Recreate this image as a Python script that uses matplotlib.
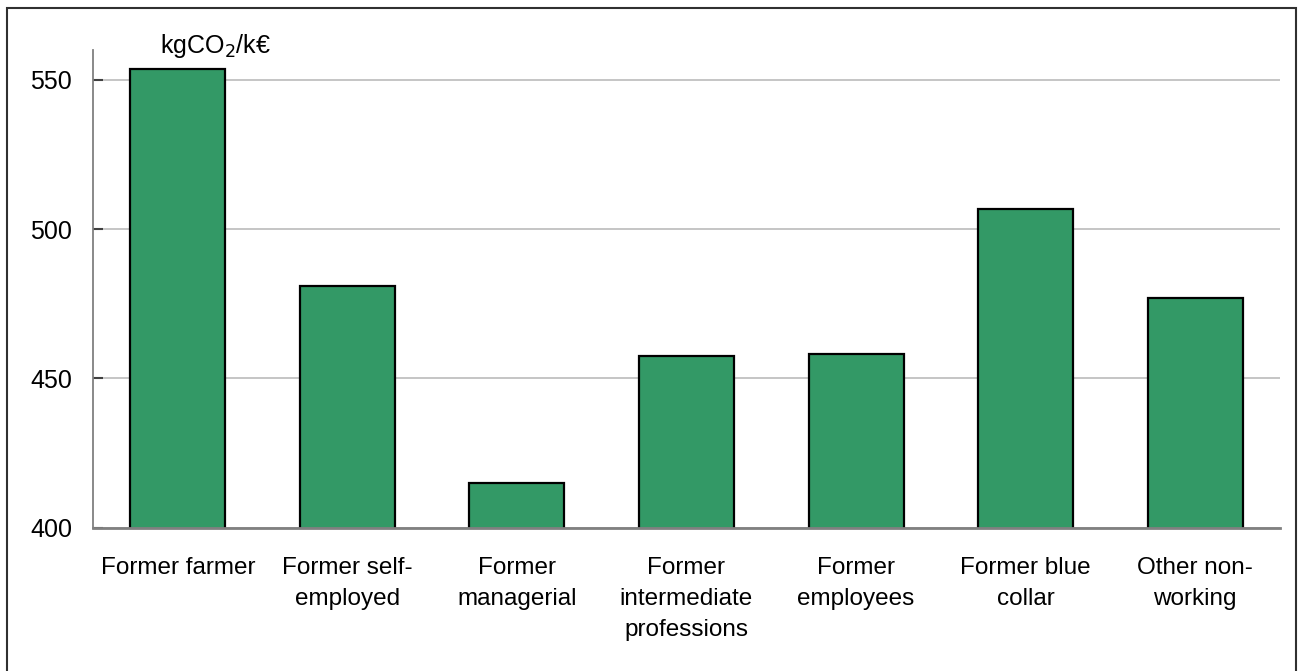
import numpy as np
import matplotlib
matplotlib.use("Agg")
import matplotlib.pyplot as plt
import matplotlib.patches as pat

categories = ["Former farmer", "Former self-\nemployed", "Former\nmanagerial",
              "Former\nintermediate\nprofessions", "Former\nemployees",
              "Former blue\ncollar", "Other non-\nworking"]
values = [553.5, 481.0, 414.9, 457.4, 458.1, 506.8, 477.0]
yticks = [400, 450, 500, 550]

plt.rcParams['font.family'] = ['Liberation Sans', 'DejaVu Sans']

fig = plt.figure(figsize=(13.03, 6.71), dpi=100)
ax = fig.add_axes([0.0714, 0.2136, 0.9109, 0.7119])

x = np.arange(len(categories))
ax.bar(x, values, width=0.56, color='#339966', edgecolor='black', linewidth=1.6,
       zorder=3)

ax.set_xlim(-0.5, len(categories) - 0.5)
ax.set_ylim(400, 560)
ax.set_yticks(yticks)
ax.set_xticks(x)
ax.set_xticklabels(categories, fontsize=17.5, linespacing=1.53, va='top')
ax.tick_params(axis='x', length=0, pad=21)
ax.tick_params(axis='y', direction='in', length=7, width=1.5, color='#404040',
               labelsize=18, pad=15)
ax.grid(axis='y', color='#c0c0c0', linewidth=1.3, zorder=0)

for s in ['top', 'right']:
    ax.spines[s].set_visible(False)
ax.spines['left'].set_color('#808080')
ax.spines['left'].set_linewidth(1.3)
ax.spines['bottom'].set_color('#808080')
ax.spines['bottom'].set_linewidth(2)
ax.spines['bottom'].set_zorder(4)

ax.text(0.22, 561.5, "kgCO$_2$/k€", fontsize=18, ha='center', va='center',
        family=['Liberation Sans', 'DejaVu Sans'])

# outer frame (bottom edge falls outside the figure)
fig.patches.append(pat.Rectangle((6.5/1303, -0.05), 1289.5/1303, 1.05 - 7.5/671,
                                 transform=fig.transFigure, fill=False,
                                 edgecolor='#303030', linewidth=1.5))

fig.savefig("out.png", dpi=100, facecolor='w')
